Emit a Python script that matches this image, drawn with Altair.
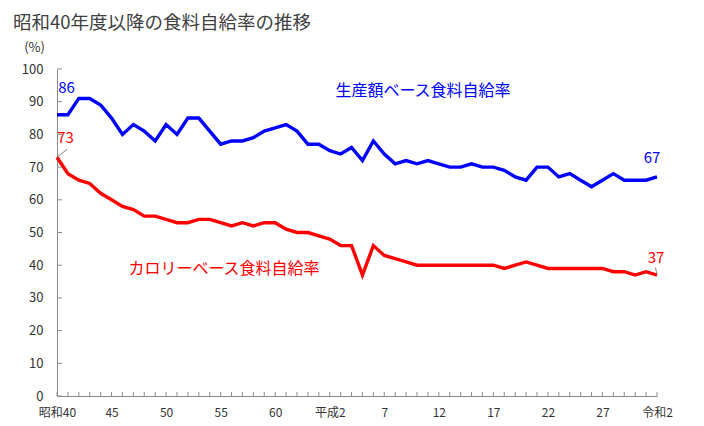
import altair as alt
import pandas as pd

FONT = "Noto Sans CJK JP"

# ---- data -------------------------------------------------------------
years = list(range(1965, 2021))  # 昭和40年度 ～ 令和2年度

production_based = [
    86, 86, 91, 91, 89, 85, 80, 83, 81, 78,
    83, 80, 85, 85, 81, 77, 78, 78, 79, 81,
    82, 83, 81, 77, 77, 75, 74, 76, 72, 78,
    74, 71, 72, 71, 72, 71, 70, 70, 71, 70,
    70, 69, 67, 66, 70, 70, 67, 68, 66, 64,
    66, 68, 66, 66, 66, 67,
]
calorie_based = [
    73, 68, 66, 65, 62, 60, 58, 57, 55, 55,
    54, 53, 53, 54, 54, 53, 52, 53, 52, 53,
    53, 51, 50, 50, 49, 48, 46, 46, 37, 46,
    43, 42, 41, 40, 40, 40, 40, 40, 40, 40,
    40, 39, 40, 41, 40, 39, 39, 39, 39, 39,
    39, 38, 38, 37, 38, 37,
]

series_names = ["生産額ベース食料自給率", "カロリーベース食料自給率"]
series_colors = ["#0000FF", "#FF0000"]

x_label_years = [1965, 1970, 1975, 1980, 1985, 1990, 1995, 2000, 2005, 2010, 2015, 2020]
x_label_texts = ["昭和40", "45", "50", "55", "60", "平成2", "7", "12", "17", "22", "27", "令和2"]
y_tick_values = [0, 10, 20, 30, 40, 50, 60, 70, 80, 90, 100]

title_text = "昭和40年度以降の食料自給率の推移"

# annotation labels (text, series, position in data space)
value_label_texts = ["86", "73", "67", "37"]
value_label_series = [series_names[0], series_names[1], series_names[0], series_names[1]]
value_label_x = [1965.87, 1965.78, 2019.54, 2019.91]
value_label_y = [94.2, 79.0, 72.8, 42.2]

name_label_x = [1998.55, 1980.31]
name_label_y = [93.3, 38.8]

leader_x = [1965.05, 2020.0]
leader_y = [73.2, 37.2]
leader_x2 = [1965.92, 2019.86]
leader_y2 = [75.4, 39.2]

# ---- tables -----------------------------------------------------------
df = pd.concat([
    pd.DataFrame({"year": years, "value": production_based, "series": series_names[0]}),
    pd.DataFrame({"year": years, "value": calorie_based, "series": series_names[1]}),
])
vals_df = pd.DataFrame({"text": value_label_texts, "series": value_label_series,
                        "year": value_label_x, "value": value_label_y})
names_df = pd.DataFrame({"text": series_names, "series": series_names,
                         "year": name_label_x, "value": name_label_y})
leader_df = pd.DataFrame({"year": leader_x, "value": leader_y,
                          "year2": leader_x2, "value2": leader_y2})
ytick_df = pd.DataFrame({"value": y_tick_values})
xtick_df = pd.DataFrame({"year": years})

label_expr = " : ".join(
    f"datum.value == {y} ? '{t}'" for y, t in zip(x_label_years, x_label_texts)
) + " : ''"

x_scale = alt.Scale(domain=[1965, 2020], nice=False, zero=False)
y_scale = alt.Scale(domain=[0, 100], nice=False)
color_scale = alt.Scale(domain=series_names, range=series_colors)

x_axis = alt.Axis(
    values=x_label_years, labelExpr=label_expr, ticks=False, grid=False,
    domainColor="#8c8c8c", domainWidth=1, labelColor="#333333", labelFontSize=12,
    labelPadding=11, labelFlush=False, labelOverlap=False, title=None)
y_axis = alt.Axis(
    values=y_tick_values, ticks=False, grid=False, domainColor="#8c8c8c", domainWidth=1,
    labelColor="#333333", labelFontSize=13, labelPadding=14, labelOverlap=False,
    labelFlush=False,
    title="(%)", titleAngle=0, titleX=-23, titleY=-22, titleAlign="center",
    titleBaseline="middle", titleFontSize=13, titleFontWeight="normal", titleColor="#333333")

X = alt.X("year:Q", scale=x_scale, axis=x_axis)
Y = alt.Y("value:Q", scale=y_scale, axis=y_axis)

lines = alt.Chart(df).mark_line(strokeWidth=3.4, strokeJoin="miter").encode(
    x=X, y=Y,
    color=alt.Color("series:N", scale=color_scale, legend=None),
    detail="series:N",
)

ytick = alt.Chart(ytick_df).mark_rule(color="#8c8c8c", strokeWidth=1).encode(
    y=Y, x=alt.value(0), x2=alt.value(5))
xtick = alt.Chart(xtick_df).mark_rule(color="#8c8c8c", strokeWidth=1).encode(
    x=X, y=alt.value(327), y2=alt.value(323))

leaders = alt.Chart(leader_df).mark_rule(color="#7f7f7f", strokeWidth=1).encode(
    x=X, y=Y, x2="year2:Q", y2="value2:Q")

value_labels = alt.Chart(vals_df).mark_text(fontSize=15, font=FONT).encode(
    x=X, y=Y, text="text:N",
    color=alt.Color("series:N", scale=color_scale, legend=None))

name_labels = alt.Chart(names_df).mark_text(fontSize=16, font=FONT).encode(
    x=X, y=Y, text="text:N",
    color=alt.Color("series:N", scale=color_scale, legend=None))

chart = alt.layer(lines, ytick, xtick, leaders, value_labels, name_labels).properties(
    width=600, height=327,
    autosize=alt.AutoSizeParams(type="none"),
    padding={"left": 49, "top": 61, "right": 39, "bottom": 22},
    title=alt.TitleParams(title_text, anchor="start", frame="group", dx=-44, offset=9,
                          fontSize=18.5, font=FONT, fontWeight="normal", color="#404040"),
    background="white",
).configure(font=FONT).configure_view(stroke=None)

chart.save("out.html", embed_options={"renderer": "svg", "actions": False})
